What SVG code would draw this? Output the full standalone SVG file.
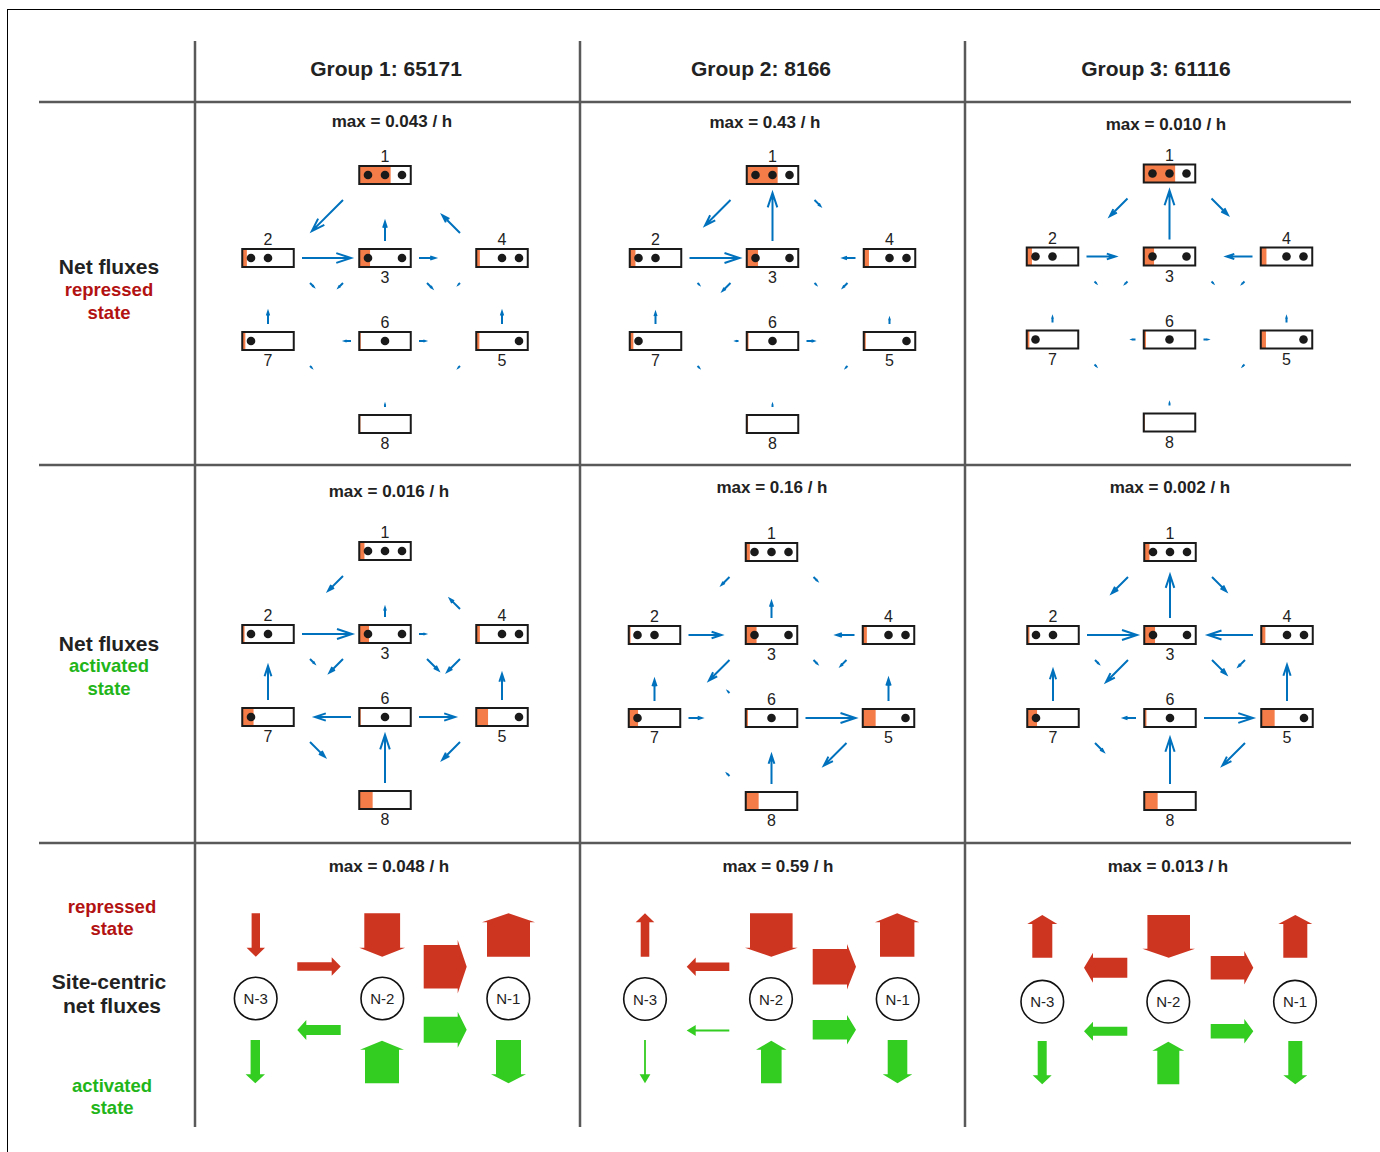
<svg xmlns="http://www.w3.org/2000/svg" width="1380" height="1152" viewBox="0 0 1380 1152">
<style>
.t{font-family:"Liberation Sans",Arial,sans-serif;text-anchor:middle;fill:#222}
.hd{font-size:21px;font-weight:bold}
.mx{font-size:17px;font-weight:bold}
.rl{font-size:21px;font-weight:bold}
.rr{font-size:18.5px;font-weight:bold;fill:#B31212}
.ra{font-size:18.5px;font-weight:bold;fill:#22B519}
.nl{font-size:16px}
.cl{font-size:15px}
.o{fill:#F47C48}
.b{fill:none;stroke:#1a1a1a;stroke-width:2}
.d{fill:#1a1a1a}
.grid line{stroke:#595959;stroke-width:2.5}
#conn path{fill:none;stroke:#0072BD;stroke-width:2}
.red{fill:#CE3521}
.grn{fill:#33CC21}
.sc{fill:#fff;stroke:#111;stroke-width:1.6}
</style>
<rect x="0" y="0" width="1380" height="1152" fill="#fff"/>
<rect x="7.5" y="9.5" width="1380" height="1150" fill="none" stroke="#000" stroke-width="1"/>
<g class="grid">
<line x1="195" y1="41" x2="195" y2="1127"/>
<line x1="580" y1="41" x2="580" y2="1127"/>
<line x1="965" y1="41" x2="965" y2="1127"/>
<line x1="39" y1="102" x2="1351" y2="102"/>
<line x1="39" y1="465" x2="1351" y2="465"/>
<line x1="39" y1="843" x2="1351" y2="843"/>
</g>
<g id="headers">
<text class="t hd" x="386" y="76">Group 1: 65171</text>
<text class="t hd" x="761" y="76">Group 2: 8166</text>
<text class="t hd" x="1156" y="76">Group 3: 61116</text>
</g>
<g id="rowlabels">
<text class="t rl" x="109" y="274">Net fluxes</text>
<text class="t rr" x="109" y="296">repressed</text>
<text class="t rr" x="109" y="319">state</text>
<text class="t rl" x="109" y="651">Net fluxes</text>
<text class="t ra" x="109" y="672">activated</text>
<text class="t ra" x="109" y="695">state</text>
<text class="t rr" x="112" y="913">repressed</text>
<text class="t rr" x="112" y="935">state</text>
<text class="t rl" x="109" y="989">Site-centric</text>
<text class="t rl" x="112" y="1013">net fluxes</text>
<text class="t ra" x="112" y="1092">activated</text>
<text class="t ra" x="112" y="1114">state</text>
</g>
<g id="maxlabels">
<text class="t mx" x="392" y="127">max = 0.043 / h</text>
<text class="t mx" x="765" y="128">max = 0.43 / h</text>
<text class="t mx" x="1166" y="130">max = 0.010 / h</text>
<text class="t mx" x="389" y="497">max = 0.016 / h</text>
<text class="t mx" x="772" y="493">max = 0.16 / h</text>
<text class="t mx" x="1170" y="493">max = 0.002 / h</text>
<text class="t mx" x="389" y="872">max = 0.048 / h</text>
<text class="t mx" x="778" y="872">max = 0.59 / h</text>
<text class="t mx" x="1168" y="872">max = 0.013 / h</text>
</g>
<g id="conn">
<path transform="translate(343 200) rotate(135)" d="M0 0H44M30.8-4.4L44 0 30.8 4.4"/>
<path transform="translate(385 241) rotate(-90)" d="M0 0H19M13.3-1.9L19 0 13.3 1.9"/>
<path transform="translate(460 233) rotate(-135)" d="M0 0H25M17.5-2.5L25 0 17.5 2.5"/>
<path transform="translate(302 258)" d="M0 0H49M34.3-4.9L49 0 34.3 4.9"/>
<path transform="translate(419 258)" d="M0 0H16M11.2-1.6L16 0 11.2 1.6"/>
<path transform="translate(268 324) rotate(-90)" d="M0 0H12M8.4-1.2L12 0 8.4 1.2"/>
<path transform="translate(502 324) rotate(-90)" d="M0 0H12M8.4-1.2L12 0 8.4 1.2"/>
<path transform="translate(310 283) rotate(45)" d="M0 0H5M3.5-.5L5 0 3.5.5"/>
<path transform="translate(343 283) rotate(135)" d="M0 0H6M4.2-.6L6 0 4.2.6"/>
<path transform="translate(427 283) rotate(45)" d="M0 0H7M4.9-.7L7 0 4.9.7"/>
<path transform="translate(460 283) rotate(135)" d="M0 0H2M1.4-.2L2 0 1.4.2"/>
<path transform="translate(351 341) rotate(180)" d="M0 0H6M4.2-.6L6 0 4.2.6"/>
<path transform="translate(419 341)" d="M0 0H6M4.2-.6L6 0 4.2.6"/>
<path transform="translate(310 366) rotate(45)" d="M0 0H2M1.4-.2L2 0 1.4.2"/>
<path transform="translate(460 366) rotate(135)" d="M0 0H2M1.4-.2L2 0 1.4.2"/>
<path transform="translate(385 407) rotate(-90)" d="M0 0H2M1.4-.2L2 0 1.4.2"/>

<path transform="translate(343 576) rotate(135)" d="M0 0H21M14.7-2.1L21 0 14.7 2.1"/>
<path transform="translate(385 617) rotate(-90)" d="M0 0H9M6.3-.9L9 0 6.3.9"/>
<path transform="translate(460 609) rotate(-135)" d="M0 0H14M9.8-1.4L14 0 9.8 1.4"/>
<path transform="translate(302 634)" d="M0 0H50M35-5L50 0 35 5"/>
<path transform="translate(419 634)" d="M0 0H6M4.2-.6L6 0 4.2.6"/>
<path transform="translate(268 700) rotate(-90)" d="M0 0H34M23.8-3.4L34 0 23.8 3.4"/>
<path transform="translate(502 700) rotate(-90)" d="M0 0H26M18.2-2.6L26 0 18.2 2.6"/>
<path transform="translate(310 659) rotate(45)" d="M0 0H6M4.2-.6L6 0 4.2.6"/>
<path transform="translate(343 659) rotate(135)" d="M0 0H19M13.3-1.9L19 0 13.3 1.9"/>
<path transform="translate(427 659) rotate(45)" d="M0 0H16M11.2-1.6L16 0 11.2 1.6"/>
<path transform="translate(460 659) rotate(135)" d="M0 0H18M12.6-1.8L18 0 12.6 1.8"/>
<path transform="translate(351 717) rotate(180)" d="M0 0H36M25.2-3.6L36 0 25.2 3.6"/>
<path transform="translate(419 717)" d="M0 0H36M25.2-3.6L36 0 25.2 3.6"/>
<path transform="translate(310 742) rotate(45)" d="M0 0H21M14.7-2.1L21 0 14.7 2.1"/>
<path transform="translate(460 742) rotate(135)" d="M0 0H25M17.5-2.5L25 0 17.5 2.5"/>
<path transform="translate(385 783) rotate(-90)" d="M0 0H48M33.6-4.8L48 0 33.6 4.8"/>

<path transform="translate(730.5 200) rotate(135)" d="M0 0H36M25.2-3.6L36 0 25.2 3.6"/>
<path transform="translate(772.5 241) rotate(-90)" d="M0 0H48M33.6-4.8L48 0 33.6 4.8"/>
<path transform="translate(814.5 200) rotate(45)" d="M0 0H8M5.6-.8L8 0 5.6.8"/>
<path transform="translate(689.5 258)" d="M0 0H50M35-5L50 0 35 5"/>
<path transform="translate(855.5 258) rotate(180)" d="M0 0H12M8.4-1.2L12 0 8.4 1.2"/>
<path transform="translate(655.5 324) rotate(-90)" d="M0 0H11M7.7-1.1L11 0 7.7 1.1"/>
<path transform="translate(889.5 324) rotate(-90)" d="M0 0H5M3.5-.5L5 0 3.5.5"/>
<path transform="translate(697.5 283) rotate(45)" d="M0 0H2M1.4-.2L2 0 1.4.2"/>
<path transform="translate(730.5 283) rotate(135)" d="M0 0H11M7.7-1.1L11 0 7.7 1.1"/>
<path transform="translate(814.5 283) rotate(45)" d="M0 0H2M1.4-.2L2 0 1.4.2"/>
<path transform="translate(847.5 283) rotate(135)" d="M0 0H6M4.2-.6L6 0 4.2.6"/>
<path transform="translate(738.5 341) rotate(180)" d="M0 0H2M1.4-.2L2 0 1.4.2"/>
<path transform="translate(806.5 341)" d="M0 0H7M4.9-.7L7 0 4.9.7"/>
<path transform="translate(697.5 366) rotate(45)" d="M0 0H2M1.4-.2L2 0 1.4.2"/>
<path transform="translate(847.5 366) rotate(135)" d="M0 0H2M1.4-.2L2 0 1.4.2"/>
<path transform="translate(772.5 407) rotate(-90)" d="M0 0H2M1.4-.2L2 0 1.4.2"/>

<path transform="translate(729.5 577) rotate(135)" d="M0 0H11M7.7-1.1L11 0 7.7 1.1"/>
<path transform="translate(813.5 577) rotate(45)" d="M0 0H5M3.5-.5L5 0 3.5.5"/>
<path transform="translate(771.5 618) rotate(-90)" d="M0 0H16M11.2-1.6L16 0 11.2 1.6"/>
<path transform="translate(688.5 635)" d="M0 0H33M23.1-3.3L33 0 23.1 3.3"/>
<path transform="translate(854.5 635) rotate(180)" d="M0 0H18M12.6-1.8L18 0 12.6 1.8"/>
<path transform="translate(654.5 701) rotate(-90)" d="M0 0H21M14.7-2.1L21 0 14.7 2.1"/>
<path transform="translate(888.5 701) rotate(-90)" d="M0 0H22M15.4-2.2L22 0 15.4 2.2"/>
<path transform="translate(729.5 660) rotate(135)" d="M0 0H29M20.3-2.9L29 0 20.3 2.9"/>
<path transform="translate(729.5 693) rotate(-135)" d="M0 0H2M1.4-.2L2 0 1.4.2"/>
<path transform="translate(813.5 660) rotate(45)" d="M0 0H5M3.5-.5L5 0 3.5.5"/>
<path transform="translate(846.5 660) rotate(135)" d="M0 0H8M5.6-.8L8 0 5.6.8"/>
<path transform="translate(688.5 718)" d="M0 0H13M9.1-1.3L13 0 9.1 1.3"/>
<path transform="translate(805.5 718)" d="M0 0H50M35-5L50 0 35 5"/>
<path transform="translate(729.5 776) rotate(-135)" d="M0 0H3M2.1-.3L3 0 2.1.3"/>
<path transform="translate(846.5 743) rotate(135)" d="M0 0H32M22.4-3.2L32 0 22.4 3.2"/>
<path transform="translate(771.5 784) rotate(-90)" d="M0 0H29M20.3-2.9L29 0 20.3 2.9"/>

<path transform="translate(1127.5 198.5) rotate(135)" d="M0 0H25M17.5-2.5L25 0 17.5 2.5"/>
<path transform="translate(1169.5 239.5) rotate(-90)" d="M0 0H49M34.3-4.9L49 0 34.3 4.9"/>
<path transform="translate(1211.5 198.5) rotate(45)" d="M0 0H23M16.1-2.3L23 0 16.1 2.3"/>
<path transform="translate(1086.5 256.5)" d="M0 0H29M20.3-2.9L29 0 20.3 2.9"/>
<path transform="translate(1252.5 256.5) rotate(180)" d="M0 0H26M18.2-2.6L26 0 18.2 2.6"/>
<path transform="translate(1052.5 322.5) rotate(-90)" d="M0 0H5M3.5-.5L5 0 3.5.5"/>
<path transform="translate(1286.5 322.5) rotate(-90)" d="M0 0H5M3.5-.5L5 0 3.5.5"/>
<path transform="translate(1094.5 281.5) rotate(45)" d="M0 0H2M1.4-.2L2 0 1.4.2"/>
<path transform="translate(1127.5 281.5) rotate(135)" d="M0 0H3M2.1-.3L3 0 2.1.3"/>
<path transform="translate(1211.5 281.5) rotate(45)" d="M0 0H2M1.4-.2L2 0 1.4.2"/>
<path transform="translate(1244.5 281.5) rotate(135)" d="M0 0H3M2.1-.3L3 0 2.1.3"/>
<path transform="translate(1135.5 339.5) rotate(180)" d="M0 0H3M2.1-.3L3 0 2.1.3"/>
<path transform="translate(1203.5 339.5)" d="M0 0H4M2.8-.4L4 0 2.8.4"/>
<path transform="translate(1094.5 364.5) rotate(45)" d="M0 0H2M1.4-.2L2 0 1.4.2"/>
<path transform="translate(1244.5 364.5) rotate(135)" d="M0 0H2M1.4-.2L2 0 1.4.2"/>
<path transform="translate(1169.5 405.5) rotate(-90)" d="M0 0H2M1.4-.2L2 0 1.4.2"/>

<path transform="translate(1128 577) rotate(135)" d="M0 0H23M16.1-2.3L23 0 16.1 2.3"/>
<path transform="translate(1170 618) rotate(-90)" d="M0 0H43M30.1-4.3L43 0 30.1 4.3"/>
<path transform="translate(1212 577) rotate(45)" d="M0 0H20M14-2L20 0 14 2"/>
<path transform="translate(1087 635)" d="M0 0H50M35-5L50 0 35 5"/>
<path transform="translate(1253 635) rotate(180)" d="M0 0H45M31.5-4.5L45 0 31.5 4.5"/>
<path transform="translate(1053 701) rotate(-90)" d="M0 0H31M21.7-3.1L31 0 21.7 3.1"/>
<path transform="translate(1287 701) rotate(-90)" d="M0 0H36M25.2-3.6L36 0 25.2 3.6"/>
<path transform="translate(1095 660) rotate(45)" d="M0 0H5M3.5-.5L5 0 3.5.5"/>
<path transform="translate(1128 660) rotate(135)" d="M0 0H31M21.7-3.1L31 0 21.7 3.1"/>
<path transform="translate(1212 660) rotate(45)" d="M0 0H20M14-2L20 0 14 2"/>
<path transform="translate(1245 660) rotate(135)" d="M0 0H9M6.3-.9L9 0 6.3.9"/>
<path transform="translate(1136 718) rotate(180)" d="M0 0H12M8.4-1.2L12 0 8.4 1.2"/>
<path transform="translate(1204 718)" d="M0 0H49M34.3-4.9L49 0 34.3 4.9"/>
<path transform="translate(1095 743) rotate(45)" d="M0 0H12M8.4-1.2L12 0 8.4 1.2"/>
<path transform="translate(1245 743) rotate(135)" d="M0 0H32M22.4-3.2L32 0 22.4 3.2"/>
<path transform="translate(1170 784) rotate(-90)" d="M0 0H46M32.2-4.6L46 0 32.2 4.6"/>
</g>

<!-- Panel G1 repressed -->
<g id="g1r-n1" transform="translate(385 175)"><rect class="o" x="-25.75" y="-9" width="31.4" height="18"/><rect class="b" x="-25.75" y="-9" width="51.5" height="18"/><circle class="d" cx="-17" r="4.3"/><circle class="d" cx="0" r="4.3"/><circle class="d" cx="17" r="4.3"/><text class="t nl" y="-13">1</text></g>
<g id="g1r-n2" transform="translate(268 258)"><rect class="o" x="-25.75" y="-9" width="4.6" height="18"/><rect class="b" x="-25.75" y="-9" width="51.5" height="18"/><circle class="d" cx="-17" r="4.3"/><circle class="d" cx="0" r="4.3"/><text class="t nl" y="-13">2</text></g>
<g id="g1r-n3" transform="translate(385 258)"><rect class="o" x="-25.75" y="-9" width="10.8" height="18"/><rect class="b" x="-25.75" y="-9" width="51.5" height="18"/><circle class="d" cx="-17" r="4.3"/><circle class="d" cx="17" r="4.3"/><text class="t nl" y="25">3</text></g>
<g id="g1r-n4" transform="translate(502 258)"><rect class="o" x="-25.75" y="-9" width="3.6" height="18"/><rect class="b" x="-25.75" y="-9" width="51.5" height="18"/><circle class="d" cx="0" r="4.3"/><circle class="d" cx="17" r="4.3"/><text class="t nl" y="-13">4</text></g>
<g id="g1r-n7" transform="translate(268 341)"><rect class="o" x="-25.75" y="-9" width="3.1" height="18"/><rect class="b" x="-25.75" y="-9" width="51.5" height="18"/><circle class="d" cx="-17" r="4.3"/><text class="t nl" y="25">7</text></g>
<g id="g1r-n6" transform="translate(385 341)"><rect class="o" x="-25.75" y="-9" width="1.5" height="18"/><rect class="b" x="-25.75" y="-9" width="51.5" height="18"/><circle class="d" cx="0" r="4.3"/><text class="t nl" y="-13">6</text></g>
<g id="g1r-n5" transform="translate(502 341)"><rect class="o" x="-25.75" y="-9" width="3.1" height="18"/><rect class="b" x="-25.75" y="-9" width="51.5" height="18"/><circle class="d" cx="17" r="4.3"/><text class="t nl" y="25">5</text></g>
<g id="g1r-n8" transform="translate(385 424)"><rect class="o" x="-25.75" y="-9" width="1.2" height="18"/><rect class="b" x="-25.75" y="-9" width="51.5" height="18"/><text class="t nl" y="25">8</text></g>

<!-- Panel G1 activated -->
<g id="g1a-n1" transform="translate(385 551)"><rect class="o" x="-25.75" y="-9" width="5.2" height="18"/><rect class="b" x="-25.75" y="-9" width="51.5" height="18"/><circle class="d" cx="-17" r="4.3"/><circle class="d" cx="0" r="4.3"/><circle class="d" cx="17" r="4.3"/><text class="t nl" y="-13">1</text></g>
<g id="g1a-n2" transform="translate(268 634)"><rect class="o" x="-25.75" y="-9" width="2.3" height="18"/><rect class="b" x="-25.75" y="-9" width="51.5" height="18"/><circle class="d" cx="-17" r="4.3"/><circle class="d" cx="0" r="4.3"/><text class="t nl" y="-13">2</text></g>
<g id="g1a-n3" transform="translate(385 634)"><rect class="o" x="-25.75" y="-9" width="9.8" height="18"/><rect class="b" x="-25.75" y="-9" width="51.5" height="18"/><circle class="d" cx="-17" r="4.3"/><circle class="d" cx="17" r="4.3"/><text class="t nl" y="25">3</text></g>
<g id="g1a-n4" transform="translate(502 634)"><rect class="o" x="-25.75" y="-9" width="3.6" height="18"/><rect class="b" x="-25.75" y="-9" width="51.5" height="18"/><circle class="d" cx="0" r="4.3"/><circle class="d" cx="17" r="4.3"/><text class="t nl" y="-13">4</text></g>
<g id="g1a-n7" transform="translate(268 717)"><rect class="o" x="-25.75" y="-9" width="11.3" height="18"/><rect class="b" x="-25.75" y="-9" width="51.5" height="18"/><circle class="d" cx="-17" r="4.3"/><text class="t nl" y="25">7</text></g>
<g id="g1a-n6" transform="translate(385 717)"><rect class="o" x="-25.75" y="-9" width="1.5" height="18"/><rect class="b" x="-25.75" y="-9" width="51.5" height="18"/><circle class="d" cx="0" r="4.3"/><text class="t nl" y="-13">6</text></g>
<g id="g1a-n5" transform="translate(502 717)"><rect class="o" x="-25.75" y="-9" width="11.8" height="18"/><rect class="b" x="-25.75" y="-9" width="51.5" height="18"/><circle class="d" cx="17" r="4.3"/><text class="t nl" y="25">5</text></g>
<g id="g1a-n8" transform="translate(385 800)"><rect class="o" x="-25.75" y="-9" width="13.4" height="18"/><rect class="b" x="-25.75" y="-9" width="51.5" height="18"/><text class="t nl" y="25">8</text></g>

<!-- Panel G2 repressed -->
<g id="g2r-n1" transform="translate(772.5 175)"><rect class="o" x="-25.75" y="-9" width="30.9" height="18"/><rect class="b" x="-25.75" y="-9" width="51.5" height="18"/><circle class="d" cx="-17" r="4.3"/><circle class="d" cx="0" r="4.3"/><circle class="d" cx="17" r="4.3"/><text class="t nl" y="-13">1</text></g>
<g id="g2r-n2" transform="translate(655.5 258)"><rect class="o" x="-25.75" y="-9" width="5.7" height="18"/><rect class="b" x="-25.75" y="-9" width="51.5" height="18"/><circle class="d" cx="-17" r="4.3"/><circle class="d" cx="0" r="4.3"/><text class="t nl" y="-13">2</text></g>
<g id="g2r-n3" transform="translate(772.5 258)"><rect class="o" x="-25.75" y="-9" width="11.3" height="18"/><rect class="b" x="-25.75" y="-9" width="51.5" height="18"/><circle class="d" cx="-17" r="4.3"/><circle class="d" cx="17" r="4.3"/><text class="t nl" y="25">3</text></g>
<g id="g2r-n4" transform="translate(889.5 258)"><rect class="o" x="-25.75" y="-9" width="5.2" height="18"/><rect class="b" x="-25.75" y="-9" width="51.5" height="18"/><circle class="d" cx="0" r="4.3"/><circle class="d" cx="17" r="4.3"/><text class="t nl" y="-13">4</text></g>
<g id="g2r-n7" transform="translate(655.5 341)"><rect class="o" x="-25.75" y="-9" width="3.6" height="18"/><rect class="b" x="-25.75" y="-9" width="51.5" height="18"/><circle class="d" cx="-17" r="4.3"/><text class="t nl" y="25">7</text></g>
<g id="g2r-n6" transform="translate(772.5 341)"><rect class="o" x="-25.75" y="-9" width="1.8" height="18"/><rect class="b" x="-25.75" y="-9" width="51.5" height="18"/><circle class="d" cx="0" r="4.3"/><text class="t nl" y="-13">6</text></g>
<g id="g2r-n5" transform="translate(889.5 341)"><rect class="o" x="-25.75" y="-9" width="2" height="18"/><rect class="b" x="-25.75" y="-9" width="51.5" height="18"/><circle class="d" cx="17" r="4.3"/><text class="t nl" y="25">5</text></g>
<g id="g2r-n8" transform="translate(772.5 424)"><rect class="o" x="-25.75" y="-9" width="1.3" height="18"/><rect class="b" x="-25.75" y="-9" width="51.5" height="18"/><text class="t nl" y="25">8</text></g>

<!-- Panel G2 activated -->
<g id="g2a-n1" transform="translate(771.5 552)"><rect class="o" x="-25.75" y="-9" width="4.1" height="18"/><rect class="b" x="-25.75" y="-9" width="51.5" height="18"/><circle class="d" cx="-17" r="4.3"/><circle class="d" cx="0" r="4.3"/><circle class="d" cx="17" r="4.3"/><text class="t nl" y="-13">1</text></g>
<g id="g2a-n2" transform="translate(654.5 635)"><rect class="o" x="-25.75" y="-9" width="1.8" height="18"/><rect class="b" x="-25.75" y="-9" width="51.5" height="18"/><circle class="d" cx="-17" r="4.3"/><circle class="d" cx="0" r="4.3"/><text class="t nl" y="-13">2</text></g>
<g id="g2a-n3" transform="translate(771.5 635)"><rect class="o" x="-25.75" y="-9" width="10.8" height="18"/><rect class="b" x="-25.75" y="-9" width="51.5" height="18"/><circle class="d" cx="-17" r="4.3"/><circle class="d" cx="17" r="4.3"/><text class="t nl" y="25">3</text></g>
<g id="g2a-n4" transform="translate(888.5 635)"><rect class="o" x="-25.75" y="-9" width="4.1" height="18"/><rect class="b" x="-25.75" y="-9" width="51.5" height="18"/><circle class="d" cx="0" r="4.3"/><circle class="d" cx="17" r="4.3"/><text class="t nl" y="-13">4</text></g>
<g id="g2a-n7" transform="translate(654.5 718)"><rect class="o" x="-25.75" y="-9" width="9.3" height="18"/><rect class="b" x="-25.75" y="-9" width="51.5" height="18"/><circle class="d" cx="-17" r="4.3"/><text class="t nl" y="25">7</text></g>
<g id="g2a-n6" transform="translate(771.5 718)"><rect class="o" x="-25.75" y="-9" width="2.2" height="18"/><rect class="b" x="-25.75" y="-9" width="51.5" height="18"/><circle class="d" cx="0" r="4.3"/><text class="t nl" y="-13">6</text></g>
<g id="g2a-n5" transform="translate(888.5 718)"><rect class="o" x="-25.75" y="-9" width="12.9" height="18"/><rect class="b" x="-25.75" y="-9" width="51.5" height="18"/><circle class="d" cx="17" r="4.3"/><text class="t nl" y="25">5</text></g>
<g id="g2a-n8" transform="translate(771.5 801)"><rect class="o" x="-25.75" y="-9" width="12.9" height="18"/><rect class="b" x="-25.75" y="-9" width="51.5" height="18"/><text class="t nl" y="25">8</text></g>

<!-- Panel G3 repressed -->
<g id="g3r-n1" transform="translate(1169.5 173.5)"><rect class="o" x="-25.75" y="-9" width="31.4" height="18"/><rect class="b" x="-25.75" y="-9" width="51.5" height="18"/><circle class="d" cx="-17" r="4.3"/><circle class="d" cx="0" r="4.3"/><circle class="d" cx="17" r="4.3"/><text class="t nl" y="-13">1</text></g>
<g id="g3r-n2" transform="translate(1052.5 256.5)"><rect class="o" x="-25.75" y="-9" width="5.2" height="18"/><rect class="b" x="-25.75" y="-9" width="51.5" height="18"/><circle class="d" cx="-17" r="4.3"/><circle class="d" cx="0" r="4.3"/><text class="t nl" y="-13">2</text></g>
<g id="g3r-n3" transform="translate(1169.5 256.5)"><rect class="o" x="-25.75" y="-9" width="10.3" height="18"/><rect class="b" x="-25.75" y="-9" width="51.5" height="18"/><circle class="d" cx="-17" r="4.3"/><circle class="d" cx="17" r="4.3"/><text class="t nl" y="25">3</text></g>
<g id="g3r-n4" transform="translate(1286.5 256.5)"><rect class="o" x="-25.75" y="-9" width="5.7" height="18"/><rect class="b" x="-25.75" y="-9" width="51.5" height="18"/><circle class="d" cx="0" r="4.3"/><circle class="d" cx="17" r="4.3"/><text class="t nl" y="-13">4</text></g>
<g id="g3r-n7" transform="translate(1052.5 339.5)"><rect class="o" x="-25.75" y="-9" width="2.6" height="18"/><rect class="b" x="-25.75" y="-9" width="51.5" height="18"/><circle class="d" cx="-17" r="4.3"/><text class="t nl" y="25">7</text></g>
<g id="g3r-n6" transform="translate(1169.5 339.5)"><rect class="o" x="-25.75" y="-9" width="2.2" height="18"/><rect class="b" x="-25.75" y="-9" width="51.5" height="18"/><circle class="d" cx="0" r="4.3"/><text class="t nl" y="-13">6</text></g>
<g id="g3r-n5" transform="translate(1286.5 339.5)"><rect class="o" x="-25.75" y="-9" width="5.2" height="18"/><rect class="b" x="-25.75" y="-9" width="51.5" height="18"/><circle class="d" cx="17" r="4.3"/><text class="t nl" y="25">5</text></g>
<g id="g3r-n8" transform="translate(1169.5 422.5)"><rect class="o" x="-25.75" y="-9" width="1" height="18"/><rect class="b" x="-25.75" y="-9" width="51.5" height="18"/><text class="t nl" y="25">8</text></g>

<!-- Panel G3 activated -->
<g id="g3a-n1" transform="translate(1170 552)"><rect class="o" x="-25.75" y="-9" width="5.2" height="18"/><rect class="b" x="-25.75" y="-9" width="51.5" height="18"/><circle class="d" cx="-17" r="4.3"/><circle class="d" cx="0" r="4.3"/><circle class="d" cx="17" r="4.3"/><text class="t nl" y="-13">1</text></g>
<g id="g3a-n2" transform="translate(1053 635)"><rect class="o" x="-25.75" y="-9" width="2.2" height="18"/><rect class="b" x="-25.75" y="-9" width="51.5" height="18"/><circle class="d" cx="-17" r="4.3"/><circle class="d" cx="0" r="4.3"/><text class="t nl" y="-13">2</text></g>
<g id="g3a-n3" transform="translate(1170 635)"><rect class="o" x="-25.75" y="-9" width="10.8" height="18"/><rect class="b" x="-25.75" y="-9" width="51.5" height="18"/><circle class="d" cx="-17" r="4.3"/><circle class="d" cx="17" r="4.3"/><text class="t nl" y="25">3</text></g>
<g id="g3a-n4" transform="translate(1287 635)"><rect class="o" x="-25.75" y="-9" width="4.1" height="18"/><rect class="b" x="-25.75" y="-9" width="51.5" height="18"/><circle class="d" cx="0" r="4.3"/><circle class="d" cx="17" r="4.3"/><text class="t nl" y="-13">4</text></g>
<g id="g3a-n7" transform="translate(1053 718)"><rect class="o" x="-25.75" y="-9" width="9.8" height="18"/><rect class="b" x="-25.75" y="-9" width="51.5" height="18"/><circle class="d" cx="-17" r="4.3"/><text class="t nl" y="25">7</text></g>
<g id="g3a-n6" transform="translate(1170 718)"><rect class="o" x="-25.75" y="-9" width="2.2" height="18"/><rect class="b" x="-25.75" y="-9" width="51.5" height="18"/><circle class="d" cx="0" r="4.3"/><text class="t nl" y="-13">6</text></g>
<g id="g3a-n5" transform="translate(1287 718)"><rect class="o" x="-25.75" y="-9" width="13.4" height="18"/><rect class="b" x="-25.75" y="-9" width="51.5" height="18"/><circle class="d" cx="17" r="4.3"/><text class="t nl" y="25">5</text></g>
<g id="g3a-n8" transform="translate(1170 801)"><rect class="o" x="-25.75" y="-9" width="13.4" height="18"/><rect class="b" x="-25.75" y="-9" width="51.5" height="18"/><text class="t nl" y="25">8</text></g>

<!-- Site-centric nodes -->
<g id="s1-n3"><circle class="sc" cx="255.7" cy="998.5" r="21.3"/><text class="t cl" x="255.7" y="1004">N-3</text></g>
<g id="s1-n2"><circle class="sc" cx="382.3" cy="998.5" r="21.3"/><text class="t cl" x="382.3" y="1004">N-2</text></g>
<g id="s1-n1"><circle class="sc" cx="508.3" cy="998.5" r="21.3"/><text class="t cl" x="508.3" y="1004">N-1</text></g>
<g id="s2-n3"><circle class="sc" cx="645" cy="999" r="21.3"/><text class="t cl" x="645" y="1004.5">N-3</text></g>
<g id="s2-n2"><circle class="sc" cx="771" cy="999" r="21.3"/><text class="t cl" x="771" y="1004.5">N-2</text></g>
<g id="s2-n1"><circle class="sc" cx="897.7" cy="999" r="21.3"/><text class="t cl" x="897.7" y="1004.5">N-1</text></g>
<g id="s3-n3"><circle class="sc" cx="1042.3" cy="1001.7" r="21.3"/><text class="t cl" x="1042.3" y="1007.2">N-3</text></g>
<g id="s3-n2"><circle class="sc" cx="1168.3" cy="1001.7" r="21.3"/><text class="t cl" x="1168.3" y="1007.2">N-2</text></g>
<g id="s3-n1"><circle class="sc" cx="1295" cy="1001.7" r="21.3"/><text class="t cl" x="1295" y="1007.2">N-1</text></g>

<g id="site-arrows">
<polygon class="red" points="251.6,913.3 260,913.3 260,947.7 265,947.7 255.8,956.7 246.6,947.7 251.6,947.7"/>
<polygon class="red" points="364.3,913.3 400.1,913.3 400.1,947.7 405.1,947.7 382.2,956.7 359.3,947.7 364.3,947.7"/>
<polygon class="red" points="487,956.7 530,956.7 530,922.3 535,922.3 508.5,913.3 482,922.3 487,922.3"/>
<polygon class="red" points="297.3,962.3 331.7,962.3 331.7,957.3 340.7,966.5 331.7,975.7 331.7,970.7 297.3,970.7"/>
<polygon class="red" points="423.7,945 457.7,945 457.7,940 466.7,966.7 457.7,993.4 457.7,988.4 423.7,988.4"/>
<polygon class="grn" points="250.6,1040 260,1040 260,1074.3 265,1074.3 255.3,1083.3 245.6,1074.3 250.6,1074.3"/>
<polygon class="grn" points="365,1083.3 399,1083.3 399,1049.7 404,1049.7 382,1040.7 360,1049.7 365,1049.7"/>
<polygon class="grn" points="496,1040 521,1040 521,1074.3 526,1074.3 508.5,1083.3 491,1074.3 496,1074.3"/>
<polygon class="grn" points="340.7,1025 306.3,1025 306.3,1020 297.3,1030 306.3,1040 306.3,1035 340.7,1035"/>
<polygon class="grn" points="423.7,1016.7 457.7,1016.7 457.7,1011.7 466.7,1029.7 457.7,1047.7 457.7,1042.7 423.7,1042.7"/>

<polygon class="red" points="640.7,956.7 649.3,956.7 649.3,922.3 654.3,922.3 645,913.3 635.7,922.3 640.7,922.3"/>
<polygon class="red" points="750,913.3 792.6,913.3 792.6,947.7 797.6,947.7 771.3,956.7 745,947.7 750,947.7"/>
<polygon class="red" points="880,956.7 914.4,956.7 914.4,922.3 919.4,922.3 897.2,913.3 875,922.3 880,922.3"/>
<polygon class="red" points="729.3,962.4 695.7,962.4 695.7,957.4 686.7,966.7 695.7,976 695.7,971 729.3,971"/>
<polygon class="red" points="812.7,949 847,949 847,944 856,966.7 847,989.4 847,984.4 812.7,984.4"/>
<polygon class="grn" points="644.1,1040 645.9,1040 645.9,1074.3 650.4,1074.3 645,1083.3 639.6,1074.3 644.1,1074.3"/>
<polygon class="grn" points="761,1083.3 781.6,1083.3 781.6,1049.7 786.6,1049.7 771.3,1040.7 756,1049.7 761,1049.7"/>
<polygon class="grn" points="887.7,1040 907.3,1040 907.3,1074.3 912.3,1074.3 897.5,1083.3 882.7,1074.3 887.7,1074.3"/>
<polygon class="grn" points="729.3,1029.6 695.7,1029.6 695.7,1025.1 686.7,1030.5 695.7,1035.9 695.7,1031.4 729.3,1031.4"/>
<polygon class="grn" points="812.7,1020 847,1020 847,1015 856,1029.7 847,1044.4 847,1039.4 812.7,1039.4"/>

<polygon class="red" points="1032.3,957.7 1052.3,957.7 1052.3,924 1057.3,924 1042.3,915 1027.3,924 1032.3,924"/>
<polygon class="red" points="1147.4,915 1190,915 1190,948.7 1195,948.7 1168.7,957.7 1142.4,948.7 1147.4,948.7"/>
<polygon class="red" points="1283.3,957.7 1307.3,957.7 1307.3,924 1312.3,924 1295.3,915 1278.3,924 1283.3,924"/>
<polygon class="red" points="1127.3,957.7 1093,957.7 1093,952.7 1084,967.7 1093,982.7 1093,977.7 1127.3,977.7"/>
<polygon class="red" points="1210.7,956 1244.3,956 1244.3,951 1253.3,967.7 1244.3,984.4 1244.3,979.4 1210.7,979.4"/>
<polygon class="grn" points="1037.7,1041 1046.7,1041 1046.7,1075.3 1051.7,1075.3 1042.2,1084.3 1032.7,1075.3 1037.7,1075.3"/>
<polygon class="grn" points="1157.3,1084.3 1179.3,1084.3 1179.3,1050.7 1184.3,1050.7 1168.3,1041.7 1152.3,1050.7 1157.3,1050.7"/>
<polygon class="grn" points="1288.3,1041 1302.3,1041 1302.3,1075.3 1307.3,1075.3 1295.3,1084.3 1283.3,1075.3 1288.3,1075.3"/>
<polygon class="grn" points="1127.3,1026.7 1093,1026.7 1093,1021.7 1084,1031.2 1093,1040.7 1093,1035.7 1127.3,1035.7"/>
<polygon class="grn" points="1210.7,1024 1244.3,1024 1244.3,1019 1253.3,1031.2 1244.3,1043.4 1244.3,1038.4 1210.7,1038.4"/>
</g>
</svg>
